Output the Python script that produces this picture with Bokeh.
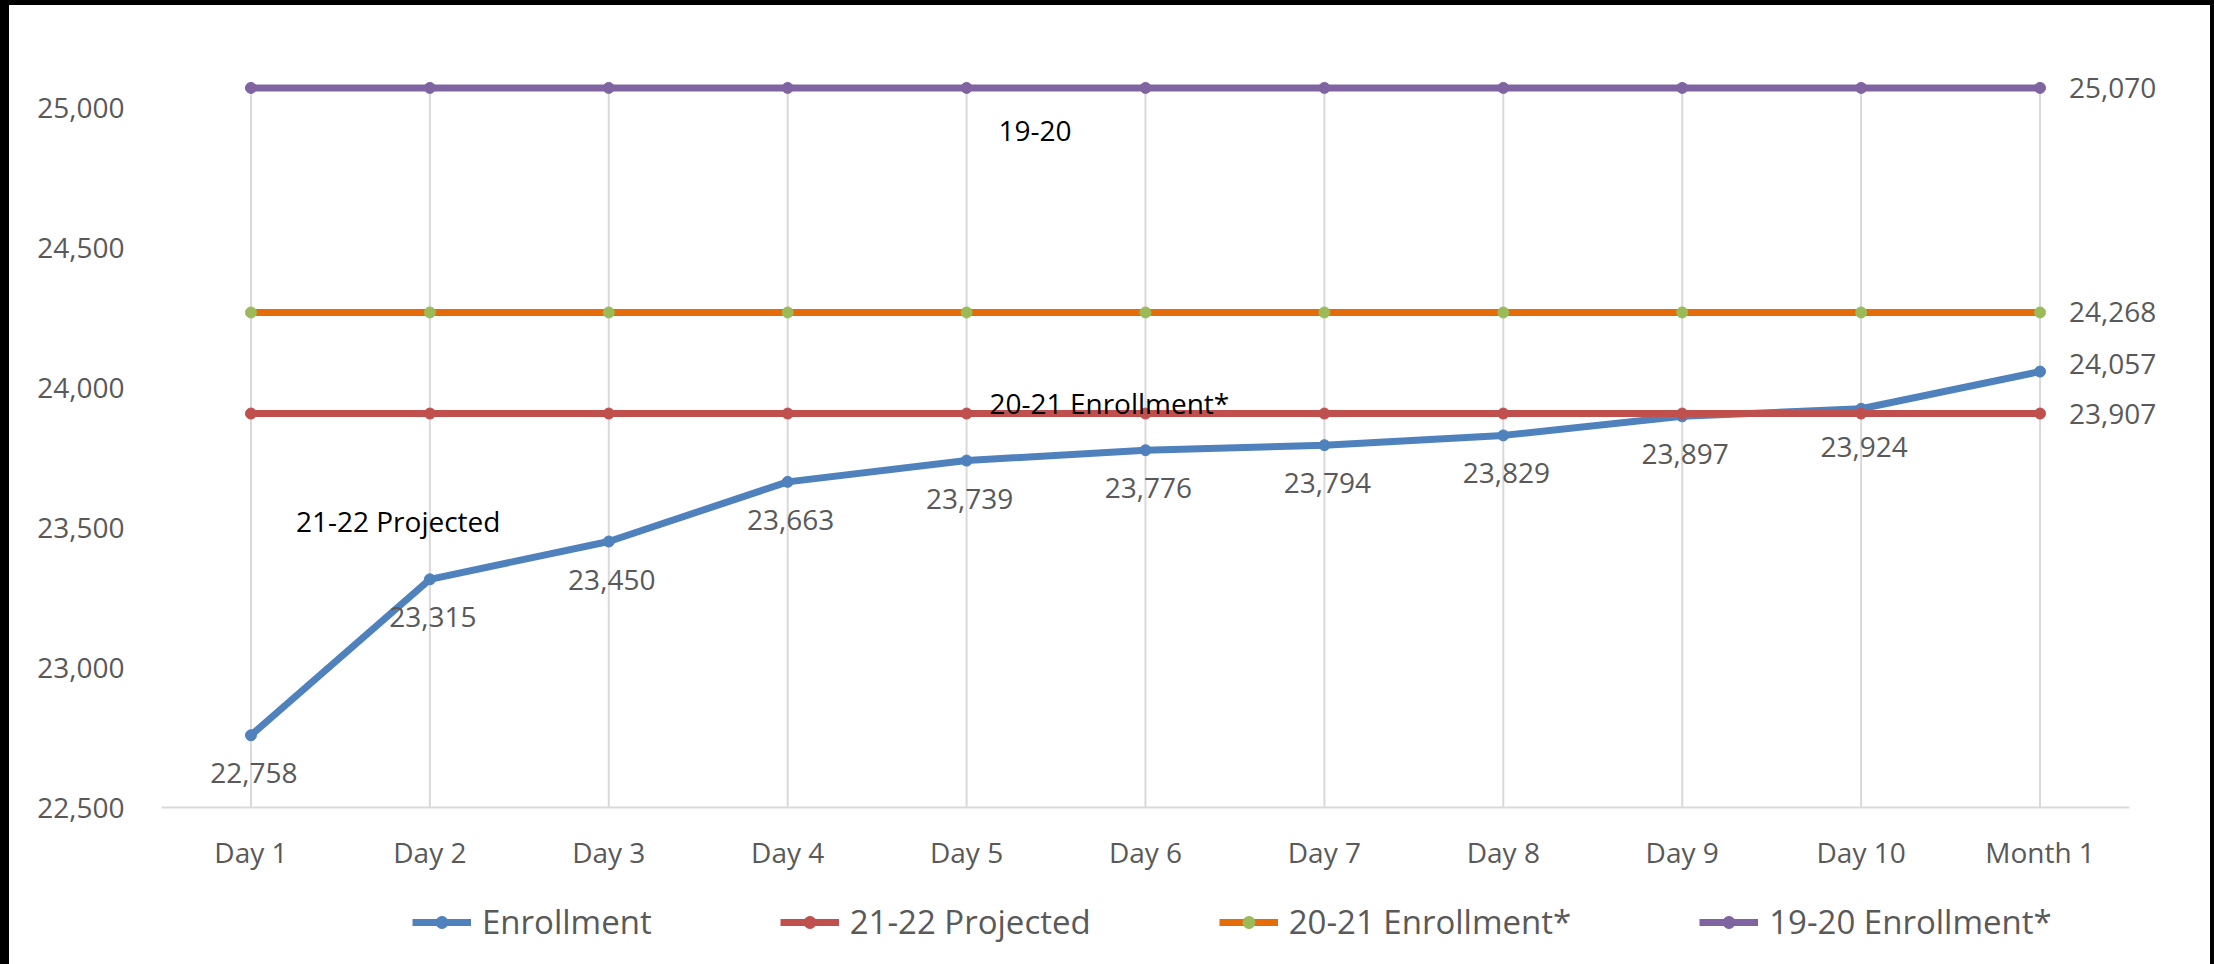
from bokeh.plotting import figure
from bokeh.layouts import column
from bokeh.models import (ColumnDataSource, LabelSet, Label, Legend, LegendItem,
                          FixedTicker, Range1d, NumeralTickFormatter)
from bokeh.embed import file_html
from bokeh.resources import INLINE
from bokeh.core.properties import value

# ---------------- data ----------------
categories = ["Day 1", "Day 2", "Day 3", "Day 4", "Day 5", "Day 6",
              "Day 7", "Day 8", "Day 9", "Day 10", "Month 1"]
enrollment = [22758, 23315, 23450, 23663, 23739, 23776, 23794, 23829, 23897, 23924, 24057]
projected_21_22 = [23907, 23907, 23907, 23907, 23907, 23907, 23907, 23907, 23907, 23907, 23907]
enrollment_20_21 = [24268, 24268, 24268, 24268, 24268, 24268, 24268, 24268, 24268, 24268, 24268]
enrollment_19_20 = [25070, 25070, 25070, 25070, 25070, 25070, 25070, 25070, 25070, 25070, 25070]
series_names = ["Enrollment", "21-22 Projected", "20-21 Enrollment*", "19-20 Enrollment*"]
y_ticks = [22500, 23000, 23500, 24000, 24500, 25000]
annotations = ["19-20", "20-21 Enrollment*", "21-22 Projected"]

FONT = "Open Sans"
FS = "28px"
GRAY = "#595959"
GRID = "#D9D9D9"
BLUE, RED, ORANGE, GREEN, PURPLE = "#4F81BD", "#C0504D", "#E46C0A", "#9BBB59", "#8064A2"

xs = list(range(len(categories)))
last = len(categories) - 1
y_min = y_ticks[0]
top_value = max(enrollment_19_20)

p = figure(width=2201, height=875,
           x_range=Range1d(-0.5, len(categories) - 0.5 + 0.397),
           y_range=Range1d(y_min, 25142.9),
           output_backend="svg", toolbar_location=None,
           min_border_left=152, min_border_right=10,
           min_border_top=62, min_border_bottom=73)
p.outline_line_color = None
p.background_fill_color = "white"
p.border_fill_color = "white"

# axes
xt = FixedTicker(ticks=xs)
p.xaxis.ticker = xt
p.xaxis.bounds = (-0.5, len(categories) - 0.5)
p.xaxis.major_label_overrides = {i: c for i, c in enumerate(categories)}
p.xaxis.axis_line_color = GRID
p.xaxis.axis_line_width = 2
p.xaxis.major_tick_line_color = None
p.xaxis.minor_tick_line_color = None
p.xaxis.major_label_standoff = 19
p.xaxis.major_label_text_font = FONT
p.xaxis.major_label_text_font_size = FS
p.xaxis.major_label_text_color = GRAY

p.yaxis.ticker = FixedTicker(ticks=y_ticks)
p.yaxis.formatter = NumeralTickFormatter(format="0,0")
p.yaxis.axis_line_color = None
p.yaxis.major_tick_line_color = None
p.yaxis.minor_tick_line_color = None
p.yaxis.major_label_standoff = 31
p.yaxis.major_label_text_font = FONT
p.yaxis.major_label_text_font_size = FS
p.yaxis.major_label_text_color = GRAY

p.grid.grid_line_color = None
# vertical category gridlines, from the axis up to the top series
p.segment(x0=xs, y0=[y_min] * len(xs), x1=xs, y1=[top_value] * len(xs),
          line_color=GRID, line_width=2)

# legend-only figure below the chart
p2 = figure(width=2201, height=84, x_range=Range1d(100, 101), y_range=Range1d(0, 1),
            output_backend="svg", toolbar_location=None,
            min_border_left=0, min_border_right=0, min_border_top=0, min_border_bottom=0)
p2.axis.visible = False
p2.grid.grid_line_color = None
p2.outline_line_color = None
p2.background_fill_color = "white"
p2.border_fill_color = "white"

# series
series = [
    (enrollment, BLUE, BLUE),
    (projected_21_22, RED, RED),
    (enrollment_20_21, ORANGE, GREEN),
    (enrollment_19_20, PURPLE, PURPLE),
]
items = []
for name, (vals, lc, mc) in zip(series_names, series):
    src = ColumnDataSource(dict(x=xs, y=vals))
    p.line("x", "y", source=src, line_color=lc, line_width=7)
    p.scatter("x", "y", source=src, size=11, fill_color=mc, line_color=mc)
    # same data in the legend figure (outside its visible range) for the legend glyphs
    ln = p2.line("x", "y", source=src, line_color=lc, line_width=7)
    mk = p2.scatter("x", "y", source=src, size=11, fill_color=mc, line_color=mc)
    items.append(LegendItem(label=name, renderers=[ln, mk]))

# data labels: Enrollment below points
below_src = ColumnDataSource(dict(x=xs[:last], y=enrollment[:last],
                                  t=[f"{v:,}" for v in enrollment[:last]]))
p.add_layout(LabelSet(x="x", y="y", text="t", source=below_src,
                      x_offset=3, y_offset=-38,
                      text_align="center", text_baseline="middle",
                      text_font=value(FONT), text_font_size=value(FS),
                      text_color=GRAY))

# right-side labels at last point
right_vals = [enrollment[last], projected_21_22[last], enrollment_20_21[last], enrollment_19_20[last]]
right_shift = [8, 0, 0, 0]
for v, dy in zip(right_vals, right_shift):
    p.add_layout(Label(x=last, y=v, text=f"{v:,}", x_offset=29, y_offset=dy,
                       text_align="left", text_baseline="middle",
                       text_font=FONT, text_font_size=FS, text_color=GRAY))

# text-box annotations
p.add_layout(Label(x=4, y=enrollment_19_20[4], text=annotations[0], x_offset=32, y_offset=-43,
                   text_align="left", text_baseline="middle",
                   text_font=FONT, text_font_size=FS, text_color="black"))
p.add_layout(Label(x=4, y=projected_21_22[4], text=annotations[1], x_offset=23, y_offset=11,
                   text_align="left", text_baseline="middle",
                   text_font=FONT, text_font_size=FS, text_color="black"))
p.add_layout(Label(x=0, y=projected_21_22[0], text=annotations[2], x_offset=45, y_offset=-107,
                   text_align="left", text_baseline="middle",
                   text_font=FONT, text_font_size=FS, text_color="black"))

legend = Legend(items=items, orientation="horizontal", location=(251, 20),
                glyph_width=59, glyph_height=30, label_standoff=11, spacing=128,
                padding=0, margin=0, border_line_color=None, background_fill_alpha=0,
                label_text_font=FONT, label_text_font_size="33px", label_text_color=GRAY)
p2.add_layout(legend, "center")

page = column(p, p2, spacing=0,
              styles={"background-color": "white",
                      "border-left": "9px solid black",
                      "border-top": "5px solid black",
                      "border-right": "4px solid black"})

open("out.html", "w").write(file_html(page, INLINE))
